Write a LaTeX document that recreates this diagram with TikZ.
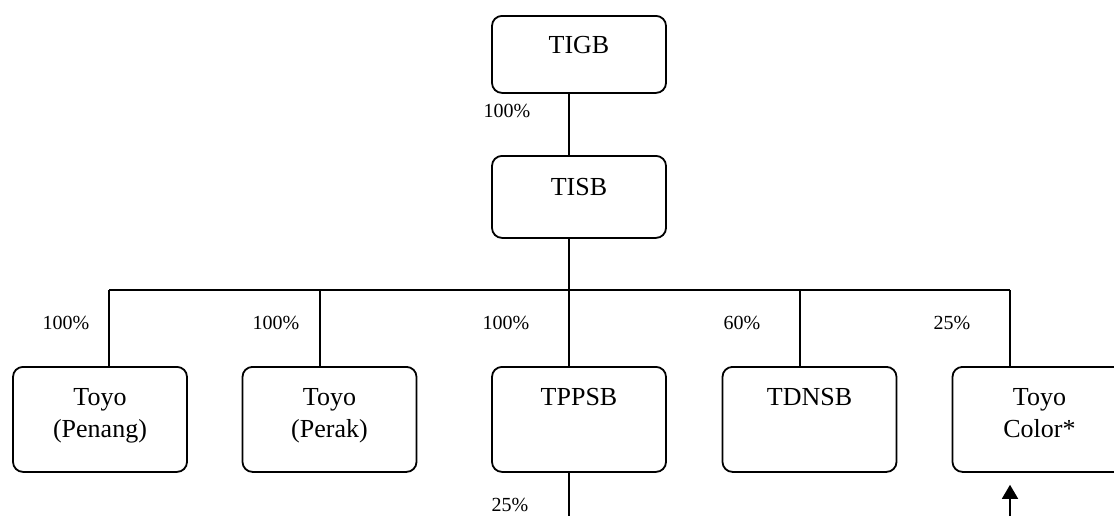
\documentclass[tikz,border=0pt]{standalone}
\usepackage{fontspec}
\setmainfont{Liberation Serif}
\usetikzlibrary{arrows.meta,calc}
\tikzset{
  orgbox/.style = {draw, line width=0.9pt, rounded corners=5pt, anchor=north, align=center,
    inner sep=0pt, minimum width=87pt, font=\fontsize{13}{16}\selectfont},
  top_n/.style = {orgbox, text height=19pt, text depth=19.5pt},
  mid_n/.style = {orgbox, text height=20pt, text depth=21pt},
  low_n/.style = {orgbox, text height=19.5pt, text depth=33pt},
  low2_n/.style = {orgbox, text height=35.5pt, text depth=17pt},
  pct/.style = {inner sep=0pt, font=\fontsize{10}{12}\selectfont},
  link/.style = {line width=0.75pt}
}
\begin{document}
\begin{tikzpicture}[x=0.5pt, y=-0.5pt]
\useasboundingbox (0,0) rectangle (1114,516);
\node [top_n] (tigb) at (579,15) {TIGB};
\node [mid_n] (tisb) at (579,155) {TISB};
\node [low2_n] (penang) at (100,366) {Toyo\\(Penang)};
\node [low2_n] (perak) at (329.5,366) {Toyo\\(Perak)};
\node [low_n] (tppsb) at (579,366) {TPPSB};
\node [low_n] (tdnsb) at (809.5,366) {TDNSB};
\node [low2_n] (color) at (1039.5,366) {Toyo\\Color*};
\coordinate (jpen) at (109,290);
\coordinate (jper) at (320,290);
\coordinate (jmid) at (569,290);
\coordinate (jdn) at (800,290);
\coordinate (jcol) at (1010,290);
\coordinate (tpend) at (569,516);
\coordinate (arrbase) at (1010,516);
\draw [link] (tigb.south -| jmid) -- (tisb.north -| jmid);
\draw [link] (tisb.south -| jmid) -- (jmid);
\draw [link] (jpen) -- (jcol);
\foreach \j/\b in {jpen/penang, jper/perak, jmid/tppsb, jdn/tdnsb, jcol/color}
  \draw [link] (\j) -- (\b.north -| \j);
\draw [link] (tppsb.south -| jmid) -- (tpend);
\draw [link, -{Triangle[length=7pt,width=8pt]}, shorten >=6pt] (arrbase) -- (color.south -| arrbase);
\node [pct] (p_tisb) at (507,111) {100\%};
\node [pct] (p_pen) at (66,323) {100\%};
\node [pct] (p_per) at (276,323) {100\%};
\node [pct] (p_tpp) at (506,323) {100\%};
\node [pct] (p_tdn) at (742,323) {60\%};
\node [pct] (p_col) at (952,323) {25\%};
\node [pct] (p_low) at (510,505) {25\%};
\end{tikzpicture}
\end{document}
